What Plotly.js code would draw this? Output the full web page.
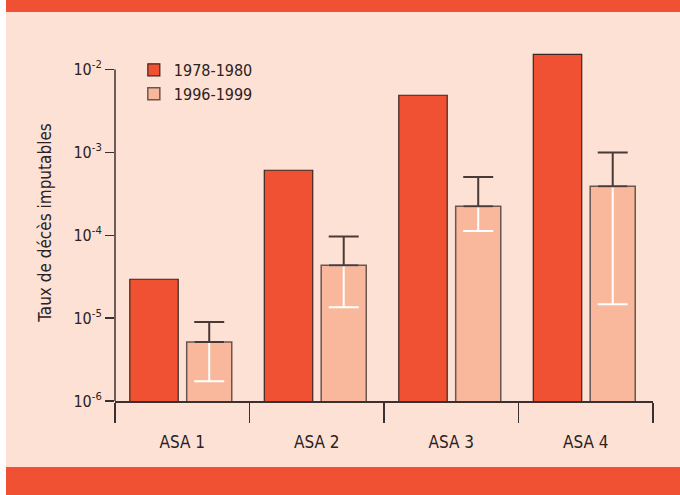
<!DOCTYPE html>
<html>
<head>
<meta charset="utf-8">
<script src="https://cdn.plot.ly/plotly-3.0.1.min.js"></script>
<style>
  html, body { margin: 0; padding: 0; background: #ffffff; }
  #chart { width: 680px; height: 495px; }
</style>
</head>
<body>
<div id="chart"></div>
<script>
// ---- data ----
var categories = ['ASA 1', 'ASA 2', 'ASA 3', 'ASA 4'];
var seriesNames = ['1978-1980', '1996-1999'];
var rates1978 = [2.95e-5, 6.1e-4, 4.9e-3, 1.53e-2];
var rates1996 = [5.15e-6, 4.35e-5, 2.24e-4, 3.9e-4];
var ciUpper1996 = [9.0e-6, 9.7e-5, 5.06e-4, 1.0e-3];
var ciLower1996 = [1.73e-6, 1.35e-5, 1.13e-4, 1.47e-5];
var tickValues = [1e-6, 1e-5, 1e-4, 1e-3, 1e-2];
var tickLabels = ['10<sup>-6</sup>', '10<sup>-5</sup>', '10<sup>-4</sup>', '10<sup>-3</sup>', '10<sup>-2</sup>'];

// ---- styling ----
var DARK = '#f05133';
var LIGHT = '#f9b89b';
var BG = '#fde1d5';
var INK = '#2b2222';
var FONT = '"DejaVu Sans Condensed", "Liberation Sans Narrow", Arial, sans-serif';

var W = 680, H = 495;
var M = {l: 115, r: 27, t: 44, b: 94};
var plotH = H - M.t - M.b;
var decadePx = 82.85;
var yTop = -6 + plotH / decadePx;
var plotW = W - M.l - M.r;

function px2paperX(px) { return (px - M.l) / plotW; }
function px2paperY(py) { return (H - M.b - py) / plotH; }

var errPlus = rates1996.map(function (v, i) { return ciUpper1996[i] - v; });
var errMinus = rates1996.map(function (v, i) { return v - ciLower1996[i]; });
var zeros = rates1996.map(function () { return 0; });

var traces = [
  {
    type: 'bar', name: seriesNames[0], x: categories, y: rates1978,
    offset: -0.39, width: 0.36,
    marker: {color: DARK, line: {color: '#3a2622', width: 1.2}},
    hoverinfo: 'x+y'
  },
  {
    type: 'bar', name: seriesNames[1], x: categories, y: rates1996,
    offset: 0.033, width: 0.335,
    marker: {color: LIGHT, line: {color: '#6a5650', width: 1.5}},
    hoverinfo: 'x+y'
  },
  {
    // lower half of the confidence interval, white, inside the bar
    type: 'bar', name: 'IC bas', x: categories, y: rates1996,
    offset: 0.033, width: 0.335, showlegend: false,
    marker: {color: 'rgba(0,0,0,0)', line: {width: 0}},
    error_y: {type: 'data', symmetric: false, array: zeros, arrayminus: errMinus,
              color: '#ffffff', thickness: 2, width: 15},
    hoverinfo: 'skip'
  },
  {
    // upper half of the confidence interval, dark, above the bar
    type: 'bar', name: 'IC haut', x: categories, y: rates1996,
    offset: 0.033, width: 0.335, showlegend: false,
    marker: {color: 'rgba(0,0,0,0)', line: {width: 0}},
    error_y: {type: 'data', symmetric: false, array: errPlus, arrayminus: zeros,
              color: '#4a3a36', thickness: 2, width: 15},
    hoverinfo: 'skip'
  }
];

var layout = {
  width: W, height: H,
  margin: M,
  paper_bgcolor: '#ffffff',
  plot_bgcolor: 'rgba(0,0,0,0)',
  barmode: 'overlay',
  font: {family: FONT, color: INK, size: 16},
  showlegend: true,
  legend: {
    x: 0.035, y: 0.975, xanchor: 'left', yanchor: 'top',
    bgcolor: 'rgba(0,0,0,0)', font: {size: 16, color: INK},
    traceorder: 'normal', itemwidth: 30
  },
  xaxis: {
    type: 'category', range: [-0.5, 3.5],
    showline: true, linecolor: '#3a3030', linewidth: 1.5,
    ticks: 'outside', tickson: 'boundaries', ticklen: 20, tickwidth: 1.5, tickcolor: '#3a3030',
    ticklabelstandoff: 25,
    tickfont: {size: 17, color: INK},
    showgrid: false, zeroline: false, fixedrange: true
  },
  yaxis: {
    type: 'log', range: [-6, yTop],
    showline: false,
    ticks: 'outside', ticklen: 9, tickwidth: 1.5, tickcolor: '#3a3030',
    tickvals: tickValues, ticktext: tickLabels,
    tickfont: {size: 16, color: INK},
    showgrid: false, zeroline: false, fixedrange: true,
    title: {text: 'Taux de décès imputables', font: {size: 17, color: INK}, standoff: 17}
  },
  shapes: [
    // peach panel
    {type: 'rect', xref: 'paper', yref: 'paper', layer: 'below',
     x0: px2paperX(6), x1: px2paperX(681), y0: px2paperY(467), y1: px2paperY(12),
     fillcolor: BG, line: {width: 0}},
    // top band
    {type: 'rect', xref: 'paper', yref: 'paper', layer: 'below',
     x0: px2paperX(6), x1: px2paperX(681), y0: px2paperY(12), y1: px2paperY(-1),
     fillcolor: DARK, line: {width: 0}},
    // bottom band
    {type: 'rect', xref: 'paper', yref: 'paper', layer: 'below',
     x0: px2paperX(6), x1: px2paperX(681), y0: px2paperY(496), y1: px2paperY(467),
     fillcolor: DARK, line: {width: 0}},
    // y axis line from 1e-6 to 1e-2
    {type: 'line', xref: 'paper', yref: 'paper', layer: 'above',
     x0: 0, x1: 0, y0: 0, y1: 4 / (yTop + 6),
     line: {color: '#3a3030', width: 1.5}}
  ]
};

Plotly.newPlot('chart', traces, layout, {displayModeBar: false, staticPlot: true});
</script>
</body>
</html>
